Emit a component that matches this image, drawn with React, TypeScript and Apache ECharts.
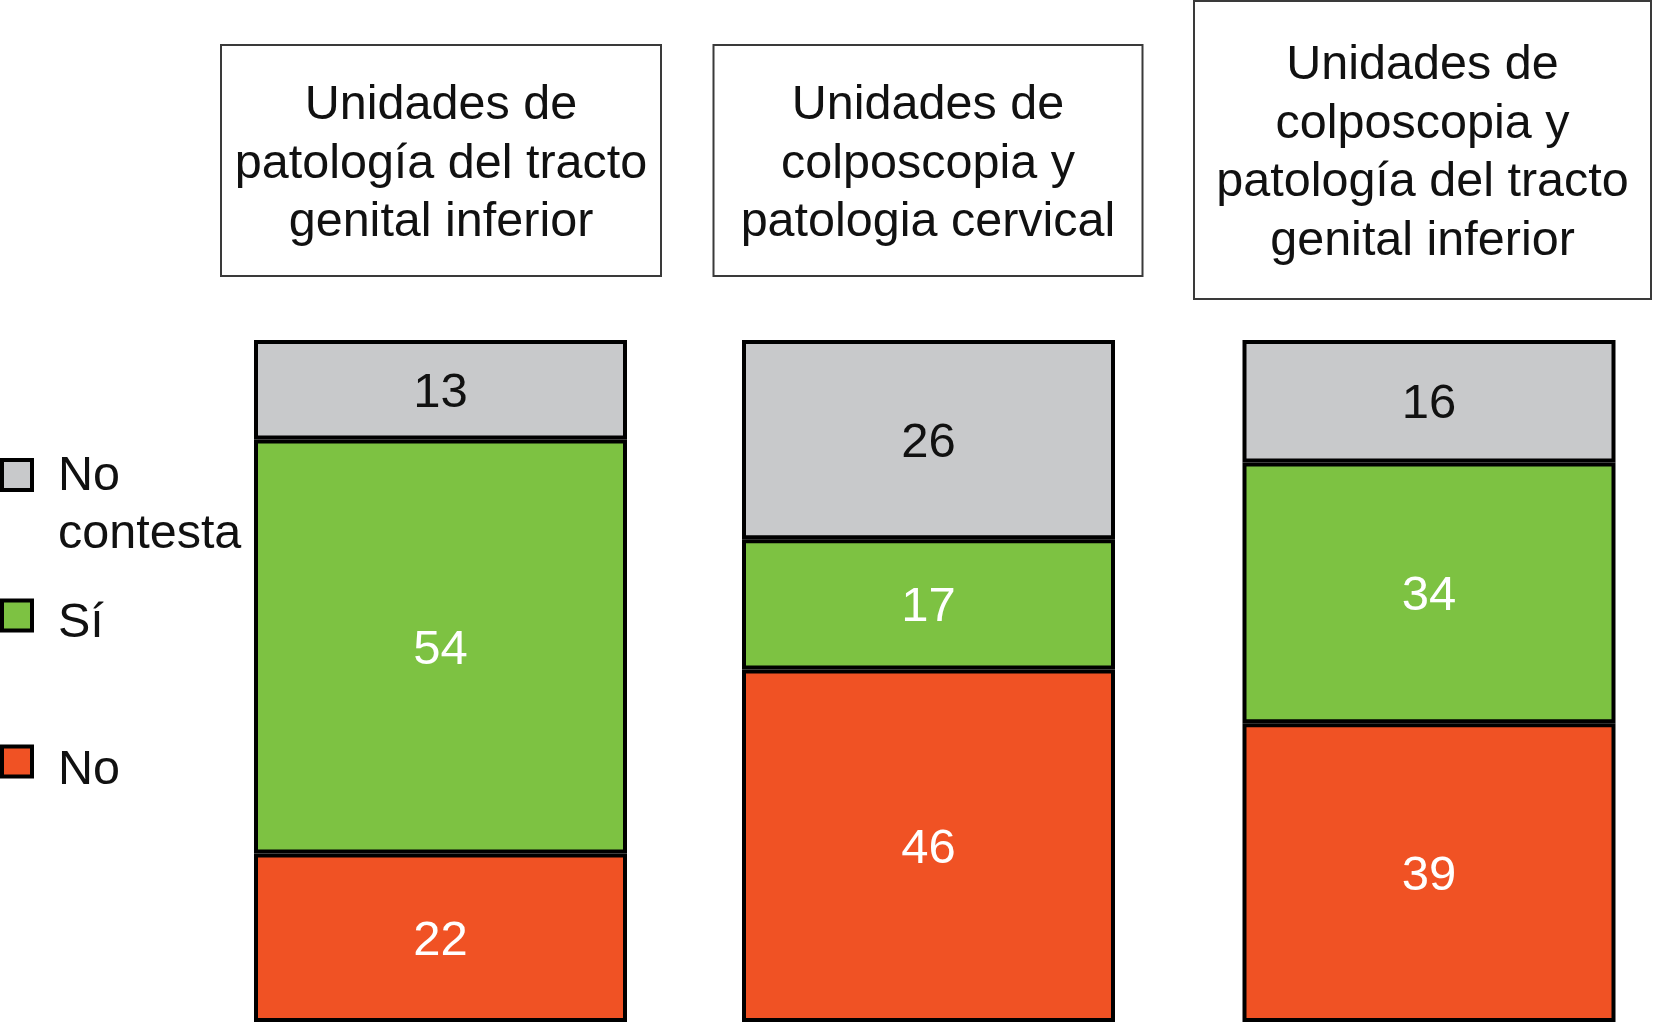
import React, { useEffect, useRef } from "react";
import * as echarts from "echarts";

// ---- Data ----
const categories = [
  "Unidades de\npatología del tracto\ngenital inferior",
  "Unidades de\ncolposcopia y\npatologia cervical",
  "Unidades de\ncolposcopia y\npatología del tracto\ngenital inferior",
];
const seriesNames = ["No", "Sí", "No contesta"];
const noValues = [22, 46, 39];
const siValues = [54, 17, 34];
const noContestaValues = [13, 26, 16];
const legendTexts = ["No\ncontesta", "Sí", "No"]; // top-to-bottom order in legend
const yMax = 89;

// ---- Styling / layout ----
const FONT = "'Liberation Sans', Arial, Helvetica, sans-serif";
const FS = 48.5;
const colors = { No: "#f05224", "Sí": "#7dc242", "No contesta": "#c8c9cb" };
const labelColors = { No: "#ffffff", "Sí": "#ffffff", "No contesta": "#111111" };
const barLefts = [254, 742, 1242.5];
const barWidth = 373;
const barTop = 340;
const barHeight = 682;
const boxes = [
  { x: 221, y: 45, w: 440, h: 231 },
  { x: 713.5, y: 45, w: 429, h: 231 },
  { x: 1194, y: 1, w: 457, h: 298 },
];
const legendSquares = [475, 615.5, 761.5];
const legendTextTops = [443.5, 590.5, 738];

export default function App() {
  const ref = useRef<HTMLDivElement>(null);

  useEffect(() => {
    if (!ref.current) return;
    const chart = echarts.init(ref.current, undefined, { renderer: "svg" });

    const valueSets: Record<string, number[]> = {
      No: noValues,
      "Sí": siValues,
      "No contesta": noContestaValues,
    };

    const grid = categories.map((_, i) => ({
      left: barLefts[i],
      top: barTop,
      width: barWidth,
      height: barHeight,
      containLabel: false,
    }));
    const xAxis = categories.map((c, i) => ({
      type: "category" as const,
      gridIndex: i,
      data: [c],
      show: false,
    }));
    const yAxis = categories.map((_, i) => ({
      type: "value" as const,
      gridIndex: i,
      min: 0,
      max: yMax,
      show: false,
      splitLine: { show: false },
    }));

    const series: any[] = [];
    categories.forEach((_, i) => {
      seriesNames.forEach((name) => {
        series.push({
          type: "bar",
          name,
          xAxisIndex: i,
          yAxisIndex: i,
          stack: "s" + i,
          barWidth: "100%",
          data: [valueSets[name][i]],
          itemStyle: {
            color: (colors as any)[name],
            borderColor: "#000000",
            borderWidth: 4,
          },
          label: {
            show: true,
            position: "inside",
            fontSize: 49,
            fontFamily: FONT,
            color: (labelColors as any)[name],
          },
        });
      });
    });

    const graphic: any[] = [];
    categories.forEach((c, i) => {
      const b = boxes[i];
      graphic.push({
        type: "rect",
        shape: { x: b.x, y: b.y, width: b.w, height: b.h },
        style: { fill: "#ffffff", stroke: "#3a3a3a", lineWidth: 2 },
      });
      graphic.push({
        type: "text",
        x: b.x + b.w / 2,
        y: b.y + b.h / 2,
        style: {
          text: c,
          fontSize: FS,
          fontFamily: FONT,
          lineHeight: 58.5,
          align: "center",
          verticalAlign: "middle",
          fill: "#111111",
        },
      });
    });
    const legendOrder = ["No contesta", "Sí", "No"];
    legendOrder.forEach((name, k) => {
      graphic.push({
        type: "rect",
        shape: { x: 2, y: legendSquares[k] - 15, width: 30, height: 30 },
        style: { fill: (colors as any)[name], stroke: "#000000", lineWidth: 4 },
      });
      graphic.push({
        type: "text",
        x: 58,
        y: legendTextTops[k],
        style: {
          text: legendTexts[k],
          fontSize: FS,
          fontFamily: FONT,
          lineHeight: 58,
          align: "left",
          verticalAlign: "top",
          fill: "#111111",
        },
      });
    });

    chart.setOption({
      animation: false,
      backgroundColor: "#ffffff",
      grid,
      xAxis,
      yAxis,
      series,
      graphic,
    });

    return () => chart.dispose();
  }, []);

  return (
    <div
      ref={ref}
      style={{ position: "fixed", left: 0, top: 0, width: 1653, height: 1024 }}
    />
  );
}
